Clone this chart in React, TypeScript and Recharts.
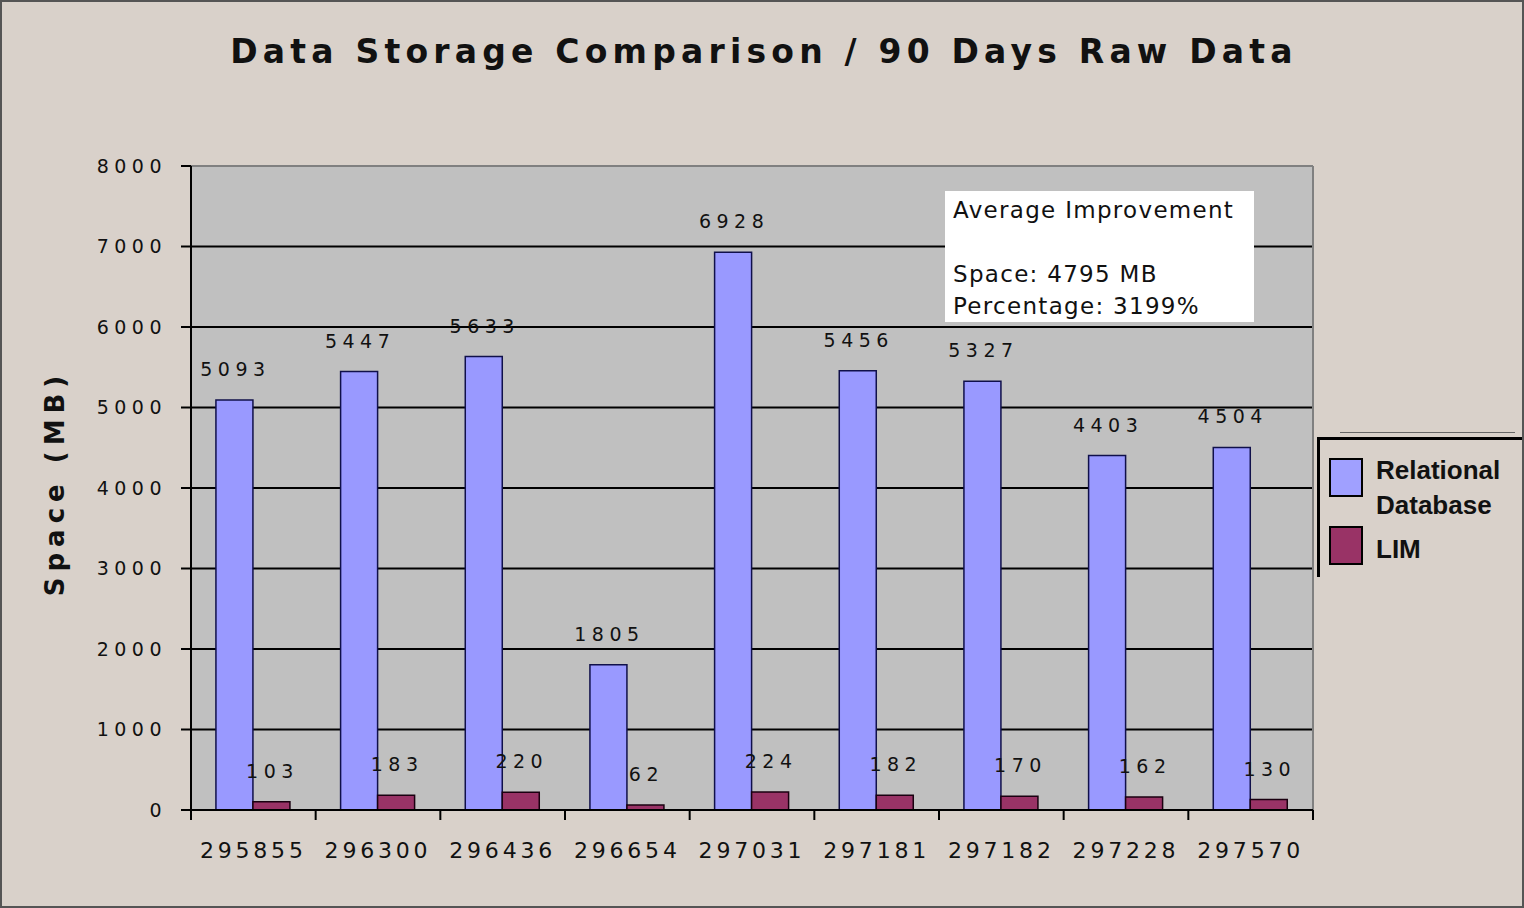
import React from "react";
import { Bar, BarChart, CartesianGrid, LabelList, ReferenceLine, XAxis, YAxis } from "recharts";

const categories = ["295855", "296300", "296436", "296654", "297031", "297181", "297182", "297228", "297570"];
const relationalDb = [5093, 5447, 5633, 1805, 6928, 5456, 5327, 4403, 4504];
const lim = [103, 183, 220, 62, 224, 182, 170, 162, 130];
const yTicks = [0, 1000, 2000, 3000, 4000, 5000, 6000, 7000, 8000];

const W = 1524;
const H = 908;
const M = { top: 166, right: 211, bottom: 0, left: 0 };
const HALF_BAND = (W - 191 - M.right) / categories.length / 2;

const FONT = "'DejaVu Sans', Verdana, sans-serif";

const data = categories.map((c, i) => ({ name: c, rdb: relationalDb[i], lim: lim[i] }));

function XTick(props: any) {
  const { x, y, payload, index } = props;
  const axisY = y - 32;
  return (
    <g>
      <line x1={x - HALF_BAND} x2={x - HALF_BAND} y1={axisY} y2={axisY + 10} stroke="#000" strokeWidth={2} />
      {index === categories.length - 1 && (
        <line x1={x + HALF_BAND} x2={x + HALF_BAND} y1={axisY} y2={axisY + 10} stroke="#000" strokeWidth={2} />
      )}
      <text x={x} y={y} dy="0.71em" textAnchor="middle" fontFamily={FONT} fontSize={22} letterSpacing={3.8} fill="#111">
        {payload.value}
      </text>
    </g>
  );
}

function YTick(props: any) {
  const { x, y, payload } = props;
  return (
    <text x={x + 4} y={y} dy="0.36em" textAnchor="end" fontFamily={FONT} fontSize={19} letterSpacing={5.5} fill="#111">
      {payload.value}
    </text>
  );
}

function ValueLabel(props: any) {
  const { x, y, width, value } = props;
  return (
    <text x={x + width / 2 + 1} y={y - 24} textAnchor="middle" fontFamily={FONT} fontSize={19} letterSpacing={5.5} fill="#111">
      {value}
    </text>
  );
}

function YLabel(props: any) {
  const { viewBox } = props;
  const cx = viewBox.x + 55;
  const cy = viewBox.y + viewBox.height / 2 - 5;
  return (
    <text x={cx} y={cy} transform={`rotate(-90 ${cx} ${cy})`} textAnchor="middle" dominantBaseline="central"
      fontFamily={FONT} fontSize={26} fontWeight="bold" letterSpacing={6} fill="#111">
      Space (MB)
    </text>
  );
}

export default function App() {
  return (
    <div style={{ position: "absolute", left: 0, top: 0, width: W, height: H, background: "#d9d1ca", boxSizing: "border-box", border: "2px solid #555", overflow: "hidden" }}>
      <div style={{ position: "absolute", left: 0, top: 30, width: W, textAlign: "center", fontFamily: FONT, fontSize: 33, fontWeight: "bold", letterSpacing: 5.2, color: "#111" }}>
        Data Storage Comparison / 90 Days Raw Data
      </div>
      <div style={{ position: "absolute", left: -2, top: -2 }}>
        <BarChart width={W} height={H} data={data} margin={M} barCategoryGap="20%" barGap={0}>
          <CartesianGrid vertical={false} stroke="#000" strokeWidth={2} fill="#c0c0c0" />
          <CartesianGrid horizontal={false} stroke="#808080" strokeWidth={2}
            verticalCoordinatesGenerator={({ offset }: any) => [offset.left + offset.width]} />
          <ReferenceLine y={8000} stroke="#808080" strokeWidth={2} />
          <XAxis dataKey="name" type="category" height={98} tickLine={false} tickSize={10} tickMargin={22}
            axisLine={{ stroke: "#000", strokeWidth: 2 }} tick={<XTick />} interval={0} />
          <YAxis type="number" domain={[0, 8000]} ticks={yTicks} width={191} tickSize={10} tickMargin={18}
            axisLine={{ stroke: "#000", strokeWidth: 2 }} tickLine={{ stroke: "#000", strokeWidth: 2 }}
            tick={<YTick />} label={<YLabel />} />
          <Bar dataKey="rdb" fill="#9999ff" stroke="#10104a" strokeWidth={1.5} isAnimationActive={false}>
            <LabelList dataKey="rdb" content={<ValueLabel />} />
          </Bar>
          <Bar dataKey="lim" fill="#993366" stroke="#1a0010" strokeWidth={1.5} isAnimationActive={false}>
            <LabelList dataKey="lim" content={<ValueLabel />} />
          </Bar>
        </BarChart>
      </div>
      <div style={{ position: "absolute", left: 943, top: 189, width: 309, height: 131, background: "#fff", fontFamily: FONT, fontSize: 23, letterSpacing: 1.3, lineHeight: "32px", color: "#111", padding: "3px 0 0 8px", boxSizing: "border-box", whiteSpace: "pre" }}>
        {"Average Improvement\n\nSpace: 4795 MB\nPercentage: 3199%"}
      </div>
      <div style={{ position: "absolute", left: 1338, top: 430, width: 175, height: 1, background: "#666" }} />
      <div style={{ position: "absolute", left: 1315, top: 435, width: 210, height: 140, borderLeft: "3px solid #000", borderTop: "3px solid #000", borderRight: "2px solid #000", boxSizing: "border-box", fontFamily: "'Liberation Sans', Arial, sans-serif", fontWeight: "bold", fontSize: 26, color: "#111" }}>
        <div style={{ position: "absolute", left: 9, top: 18, width: 34, height: 39, background: "#a0a0ff", border: "2px solid #000", boxSizing: "border-box" }} />
        <div style={{ position: "absolute", left: 56, top: 13, lineHeight: "35px" }}>Relational<br />Database</div>
        <div style={{ position: "absolute", left: 9, top: 86, width: 34, height: 39, background: "#993366", border: "2px solid #000", boxSizing: "border-box" }} />
        <div style={{ position: "absolute", left: 56, top: 92, lineHeight: "35px" }}>LIM</div>
      </div>
    </div>
  );
}
